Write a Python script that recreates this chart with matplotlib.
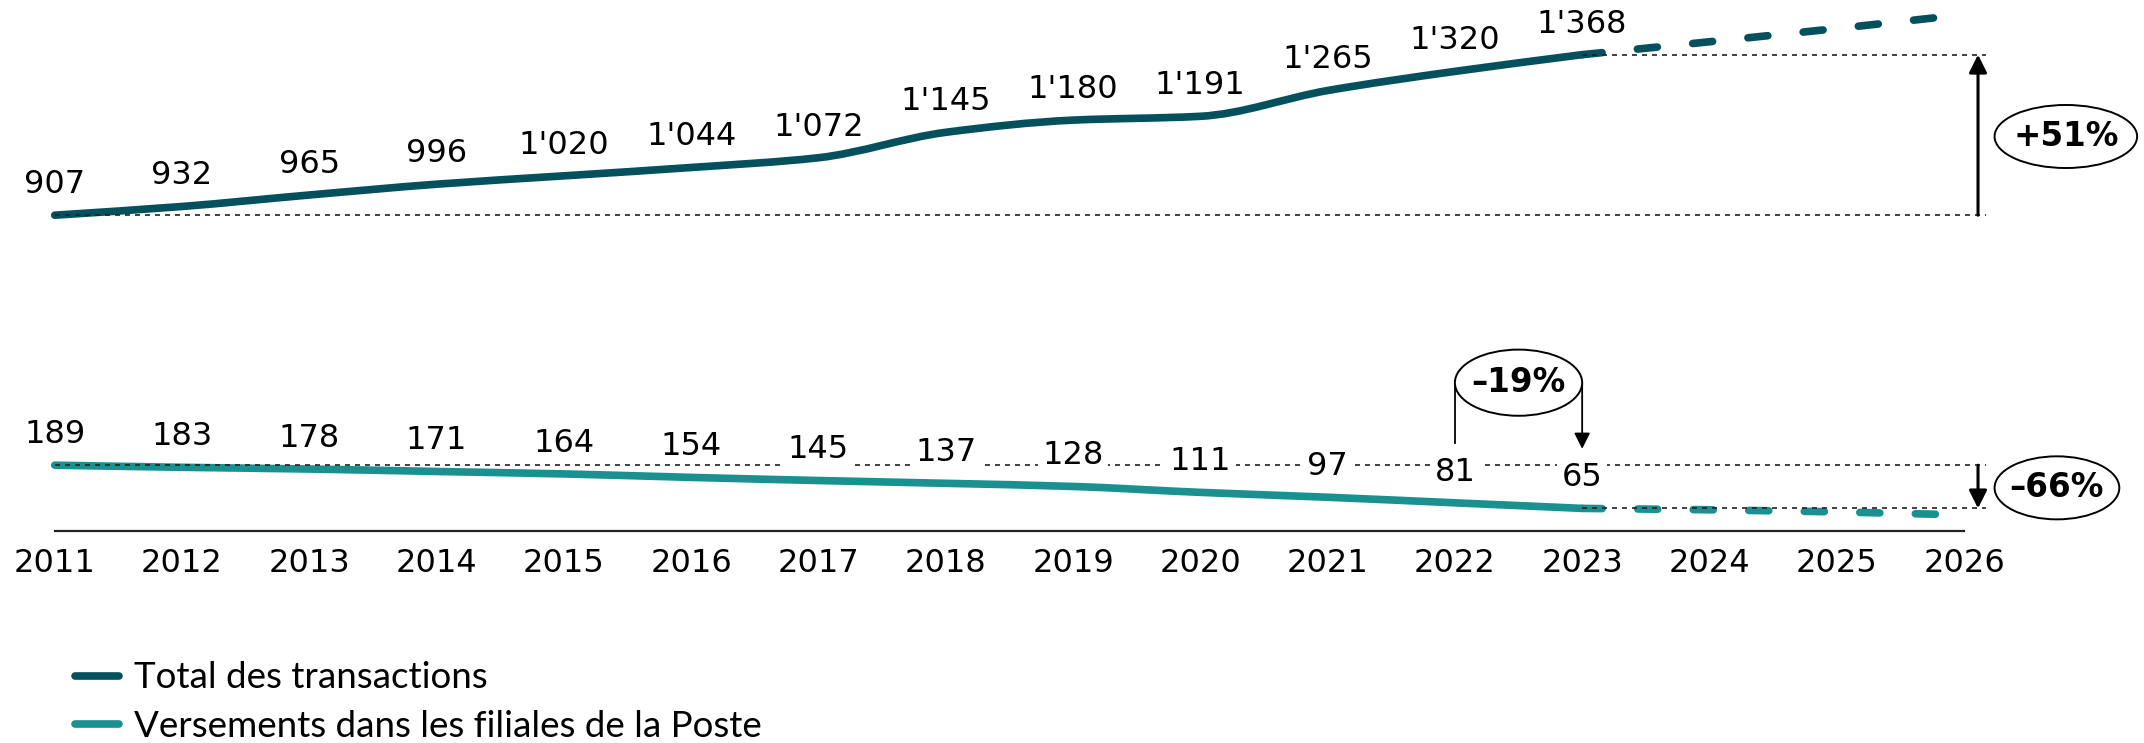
import matplotlib.pyplot as plt
from matplotlib.patches import Ellipse, PathPatch
from matplotlib.path import Path
from matplotlib.lines import Line2D

# data
years = [2011, 2012, 2013, 2014, 2015, 2016, 2017, 2018, 2019, 2020, 2021, 2022, 2023]
total = [907, 932, 965, 996, 1020, 1044, 1072, 1145, 1180, 1191, 1265, 1320, 1368]
versements = [189, 183, 178, 171, 164, 154, 145, 137, 128, 111, 97, 81, 65]

proj_years = [2023, 2024, 2025, 2025.8]
total_proj = [1368, 1405, 1443, 1475]
versements_proj = [65, 61, 55, 48]

tick_years = list(range(2011, 2027))
labels = ['Total des transactions', 'Versements dans les filiales de la Poste']

dark = '#04505C'
teal = '#1B9090'
LW = 5.5


def smooth_path(xs, ys):
    # monotone cubic (Fritsch-Carlson) drawn as bezier segments
    n = len(xs)
    d = [(ys[i + 1] - ys[i]) / (xs[i + 1] - xs[i]) for i in range(n - 1)]
    m = [d[0]] + [0.0] * (n - 2) + [d[-1]]
    for i in range(1, n - 1):
        if d[i - 1] * d[i] > 0:
            m[i] = 2 / (1 / d[i - 1] + 1 / d[i])
    verts = [(xs[0], ys[0])]
    codes = [Path.MOVETO]
    for i in range(n - 1):
        h = xs[i + 1] - xs[i]
        verts += [(xs[i] + h / 3, ys[i] + m[i] * h / 3),
                  (xs[i + 1] - h / 3, ys[i + 1] - m[i + 1] * h / 3),
                  (xs[i + 1], ys[i + 1])]
        codes += [Path.CURVE4] * 3
    return Path(verts, codes)


fig = plt.figure(figsize=(21.44, 7.43), dpi=100)
ax = fig.add_axes([0, 0.2853, 1, 0.7147])
ax.set_xlim(2010.57, 2027.414)
ax.set_ylim(0, 1525)

for s in ['top', 'left', 'right']:
    ax.spines[s].set_visible(False)
ax.spines['bottom'].set_bounds(2011, 2026)
ax.spines['bottom'].set_linewidth(1.6)
ax.spines['bottom'].set_color('#222222')
ax.set_yticks([])
ax.set_xticks(tick_years)
ax.set_xticklabels([str(y) for y in tick_years])
ax.tick_params(axis='x', length=0, pad=12, labelsize=23)

# lines
for ys, col in [(total, dark), (versements, teal)]:
    ax.add_patch(PathPatch(smooth_path(years, ys), fc='none', ec=col, lw=LW,
                           capstyle='round', joinstyle='round', zorder=3))
for ys, col in [(total_proj, dark), (versements_proj, teal)]:
    ax.plot(proj_years, ys, color=col, lw=LW, linestyle=(0, (2.62, 4.65)),
            dash_capstyle='round', zorder=3)

# dotted guides
dot = dict(color='#222222', lw=1.2, dashes=(3, 3), zorder=4)
ax.plot([2011, 2026.17], [total[0], total[0]], **dot)
ax.plot([2023, 2026.17], [total[-1], total[-1]], **dot)
ax.plot([2011, 2026.17], [versements[0], versements[0]], **dot)
ax.plot([2023, 2026.17], [versements[-1], versements[-1]], **dot)


def fmt(v):
    return f"{v:,}".replace(',', "'")


# value labels
for x, v in zip(years, total):
    ax.annotate(fmt(v), (x, v), xytext=(0, 22), textcoords='offset points',
                ha='center', va='center', fontsize=23, zorder=5)
for x, v in zip(years, versements):
    box = dict(boxstyle='square,pad=0.15', fc='white', ec='none') if x >= 2017 else None
    ax.annotate(fmt(v), (x, v), xytext=(0, 22), textcoords='offset points',
                ha='center', va='center', fontsize=23, zorder=5, bbox=box)

# change arrows
arr = dict(arrowstyle='-|>', mutation_scale=27, lw=2.2, color='black',
           shrinkA=0, shrinkB=0)
ax.annotate('', xy=(2026.11, total[-1]), xytext=(2026.11, total[0]),
            arrowprops=arr, zorder=5)
ax.annotate('', xy=(2026.11, versements[-1]), xytext=(2026.11, versements[0]),
            arrowprops=arr, zorder=5)

# -19% bracket
ax.plot([2022, 2022], [426, 253], color='black', lw=1.3, zorder=5)
ax.annotate('', xy=(2023, 236), xytext=(2023, 426),
            arrowprops=dict(arrowstyle='-|>', mutation_scale=24, lw=1.3,
                            color='black', shrinkA=0, shrinkB=0), zorder=5)

# ellipses with percentages
badges = [(2026.8, 1133, 1.12, 181, '+51%'),
          (2026.73, 124, 0.98, 181, '\u201366%'),
          (2022.5, 426, 1.0, 190, '\u201319%')]
for cx, cy, w, h, txt in badges:
    ax.add_patch(Ellipse((cx, cy), w, h, fc='white', ec='black', lw=1.4,
                         zorder=6, clip_on=False))
    ax.text(cx, cy, txt, ha='center', va='center', fontsize=23.5,
            fontweight='bold', zorder=7)

handles = [Line2D([], [], color=dark, lw=LW, solid_capstyle='round'),
           Line2D([], [], color=teal, lw=LW, solid_capstyle='round')]
fig.legend(handles, labels, loc='center left', bbox_to_anchor=(0.035, 0.055),
           frameon=False, prop={'family': 'Lato', 'size': 26.5},
           handlelength=1.2, handletextpad=0.4, borderpad=0,
           borderaxespad=0, labelspacing=0.42)

fig.savefig('out.png', dpi=100)
